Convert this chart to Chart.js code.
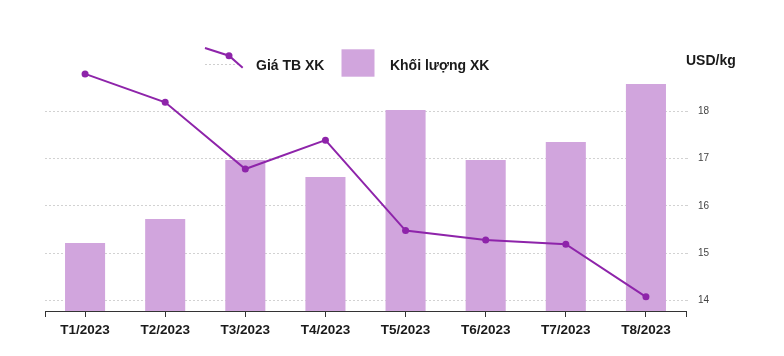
<!DOCTYPE html>
<html><head><meta charset="utf-8">
<style>html,body{margin:0;padding:0;background:#fff}#wrap{width:784px;height:356px}</style>
<script src="https://cdn.jsdelivr.net/npm/chart.js@4"></script>
</head><body><div id="wrap"><canvas id="c" width="784" height="356"></canvas></div>
<script>
const categories = ['T1/2023','T2/2023','T3/2023','T4/2023','T5/2023','T6/2023','T7/2023','T8/2023'];
const priceValues = [18.79, 18.19, 16.78, 17.39, 15.48, 15.28, 15.19, 14.08];
const volumeValues = [6.8, 9.2, 15.1, 13.4, 20.1, 15.1, 16.9, 22.7];
const priceTicks = [14, 15, 16, 17, 18];
const seriesNames = ['Giá TB XK', 'Khối lượng XK'];
const unitLabel = 'USD/kg';

const lineColor = '#8E24AA';
const barColor = '#D1A5DD';
const textColor = '#1a1a1a';

function makeLineMarker(){
  const c = document.createElement('canvas'); c.width = 40; c.height = 40;
  const g = c.getContext('2d');
  g.strokeStyle = '#cfcfcf'; g.setLineDash([2,2]); g.lineWidth = 1;
  g.beginPath(); g.moveTo(1,18.5); g.lineTo(36,18.5); g.stroke();
  g.setLineDash([]); g.strokeStyle = lineColor; g.lineWidth = 2;
  g.beginPath(); g.moveTo(1,2); g.lineTo(25,9.7); g.lineTo(38.7,21.7); g.stroke();
  g.fillStyle = lineColor; g.beginPath(); g.arc(25,9.7,3.5,0,Math.PI*2); g.fill();
  return c;
}
function makeBoxMarker(){
  const c = document.createElement('canvas'); c.width = 34; c.height = 34;
  const g = c.getContext('2d');
  g.fillStyle = barColor; g.fillRect(0.5, 0.3, 33, 27.4);
  return c;
}
const markers = [makeLineMarker(), makeBoxMarker()];

const decor = {
  id: 'decor',
  afterLayout(chart){
    const lg = chart.legend;
    if (lg) {
      const w = lg.width, h = lg.height;
      lg.left = 190.5; lg.top = 38.5;
      lg.right = lg.left + w; lg.bottom = lg.top + h + 30;
      lg.height = h + 30; lg.width = w;
    }
  },
  afterDraw(chart){
    const ctx = chart.ctx, a = chart.chartArea, y1 = chart.scales.y1;
    ctx.save();
    ctx.strokeStyle = '#333'; ctx.lineWidth = 1;
    ctx.beginPath();
    [a.left, a.right].forEach(x => { const xx = Math.round(x) + 0.5; ctx.moveTo(xx, a.bottom); ctx.lineTo(xx, a.bottom + 6); });
    ctx.stroke();
    ctx.fillStyle = textColor;
    ctx.font = 'bold 14px "Liberation Sans", Arial, sans-serif';
    ctx.textAlign = 'left'; ctx.textBaseline = 'alphabetic';
    ctx.fillText(unitLabel, y1.left, a.top + 9.5);
    ctx.restore();
  }
};

new Chart(document.getElementById('c'), {
  type: 'bar',
  data: {
    labels: categories,
    datasets: [
      {
        type: 'line', label: seriesNames[0], data: priceValues, yAxisID: 'y1', order: 0,
        borderColor: lineColor, backgroundColor: lineColor, borderWidth: 2,
        pointRadius: 3.5, pointBackgroundColor: lineColor, pointBorderWidth: 0, tension: 0
      },
      {
        type: 'bar', label: seriesNames[1], data: volumeValues, yAxisID: 'y', order: 1,
        backgroundColor: barColor, borderWidth: 0, categoryPercentage: 1, barPercentage: 0.5
      }
    ]
  },
  options: {
    responsive: false, animation: false, devicePixelRatio: 1,
    layout: { padding: { left: 45, right: 0, top: 10.5, bottom: 0 } },
    plugins: {
      tooltip: { enabled: false },
      legend: {
        position: 'top', align: 'start',
        title: { display: true, text: ' ', padding: 0, font: { size: 10, lineHeight: 1.2 } },
        labels: {
          usePointStyle: true, pointStyleWidth: 50, padding: 8.5, color: textColor,
          font: { family: '"Liberation Sans", Arial, sans-serif', size: 14, weight: 'bold' },
          generateLabels: (chart) => chart.data.datasets.map((ds, i) => ({
            text: ds.label, pointStyle: markers[i], fillStyle: 'transparent', strokeStyle: 'transparent',
            lineWidth: 0, hidden: false, datasetIndex: i, fontColor: textColor
          }))
        }
      }
    },
    scales: {
      x: {
        offset: true,
        grid: { display: true, drawOnChartArea: false, offset: false, tickLength: 6, tickColor: '#333', tickWidth: 1 },
        border: { display: true, color: '#333', width: 1 },
        ticks: {
          color: textColor, padding: 5, maxRotation: 0, autoSkip: false,
          font: { family: '"Liberation Sans", Arial, sans-serif', size: 13.5, weight: 'bold' }
        },
        afterFit: (s) => { s.height = 45; }
      },
      y: { display: false, min: 0, max: 25.6 },
      y1: {
        position: 'right', min: 13.78, max: 19.19,
        afterBuildTicks: (s) => { s.ticks = priceTicks.map(v => ({ value: v })); },
        afterFit: (s) => { s.width = 98; },
        grid: { color: '#d2d2d2', lineWidth: 1, tickLength: 4, tickColor: '#d2d2d2', tickBorderDash: [2,2] },
        border: { display: false, dash: [2,2] },
        ticks: { color: '#444', padding: 8, font: { family: '"Liberation Sans", Arial, sans-serif', size: 10 } }
      }
    }
  },
  plugins: [decor]
});
</script></body></html>
